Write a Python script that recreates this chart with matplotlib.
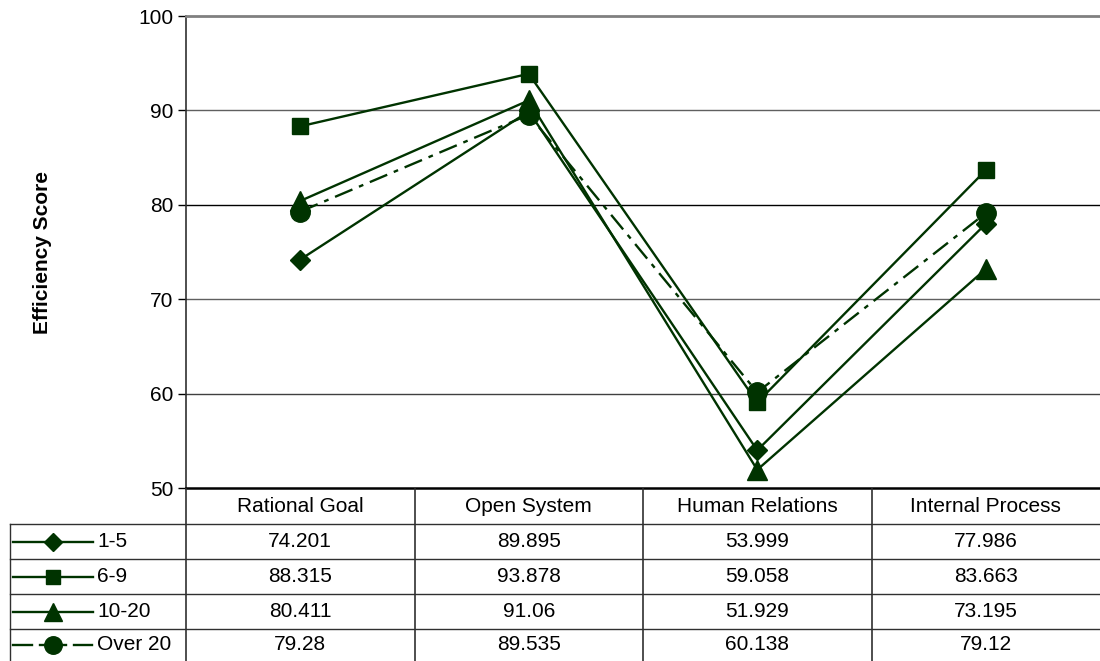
import matplotlib.pyplot as plt
import matplotlib.transforms as mtransforms
from matplotlib.lines import Line2D

plt.rcParams['font.family'] = ['Liberation Sans', 'DejaVu Sans']

categories = ['Rational Goal', 'Open System', 'Human Relations', 'Internal Process']
series_names = ['1-5', '6-9', '10-20', 'Over 20']
vals_1_5 = [74.201, 89.895, 53.999, 77.986]
vals_6_9 = [88.315, 93.878, 59.058, 83.663]
vals_10_20 = [80.411, 91.06, 51.929, 73.195]
vals_over_20 = [79.28, 89.535, 60.138, 79.12]
table_text = [
    ['74.201', '89.895', '53.999', '77.986'],
    ['88.315', '93.878', '59.058', '83.663'],
    ['80.411', '91.06', '51.929', '73.195'],
    ['79.28', '89.535', '60.138', '79.12'],
]

green = '#003300'
styles = [
    dict(marker='D', ms=10, ls='-'),
    dict(marker='s', ms=11, ls='-'),
    dict(marker='^', ms=14, ls='-'),
    dict(marker='o', ms=14, ls=(0, (8, 3, 2, 3))),
]
all_vals = [vals_1_5, vals_6_9, vals_10_20, vals_over_20]
fs = 15

W, H = 1100, 661
fig = plt.figure(figsize=(W / 100, H / 100), dpi=100)
ax = fig.add_axes([186 / W, 1 - 488 / H, 1 - 186 / W, (488 - 16) / H])

xs = list(range(len(categories)))
for vals, st in zip(all_vals, styles):
    ax.plot(xs, vals, color=green, lw=1.7, marker=st['marker'], ms=st['ms'],
            ls=st['ls'], mfc=green, mec=green, zorder=3)

ax.set_xlim(-0.5, len(categories) - 0.5)
ax.set_ylim(50, 100)
ax.set_yticks([50, 60, 70, 80, 90, 100])
ax.set_xticks([])
ax.tick_params(axis='y', direction='out', length=6, width=1, labelsize=fs, pad=3)
for y, c in [(60, '#404040'), (70, '#606060'), (80, '#000000'), (90, '#606060')]:
    ax.axhline(y, color=c, lw=1, zorder=1)
ax.spines['top'].set_color('#808080')
ax.spines['top'].set_linewidth(2)
ax.spines['right'].set_visible(False)
ax.spines['left'].set_color('#303030')
ax.spines['left'].set_linewidth(1.2)
ax.spines['bottom'].set_linewidth(1.8)
ax.set_ylabel('Efficiency Score', fontsize=fs, fontweight='bold')
ax.yaxis.set_label_coords(-134 / (W - 186), 0.5)

# data table underneath, columns follow the category positions
tr = mtransforms.blended_transform_factory(ax.transData, fig.transFigure)
ftr = fig.transFigure


def fy(py):
    return 1 - py / H


row_edges = [489, 524, 559, 594, 629, 661]
for py in row_edges[1:-1]:
    fig.add_artist(Line2D([10 / W, 1], [fy(py), fy(py)], color='#303030', lw=1, transform=ftr))
fig.add_artist(Line2D([10 / W, 10 / W], [fy(524), 0], color='#303030', lw=1, transform=ftr))
for i in range(len(categories)):
    fig.add_artist(Line2D([i - 0.5, i - 0.5], [fy(489), 0], color='#303030', lw=1.2, transform=tr))

for i, cat in enumerate(categories):
    fig.text(i, fy(506), cat, transform=tr, ha='center', va='center', fontsize=fs)
for r in range(len(series_names)):
    yc = fy((row_edges[r + 1] + row_edges[r + 2]) / 2)
    for i in range(len(categories)):
        fig.text(i, yc, table_text[r][i], transform=tr, ha='center', va='center', fontsize=fs)
    st = styles[r]
    if st['ls'] == '-':
        fig.add_artist(Line2D([13 / W, 93 / W], [yc, yc], color=green, lw=1.7, transform=ftr))
    else:
        for x0, x1 in [(13, 32), (40, 46), (61, 66), (74, 92)]:
            fig.add_artist(Line2D([x0 / W, x1 / W], [yc, yc], color=green, lw=1.7, transform=ftr))
    fig.add_artist(Line2D([53 / W], [yc], marker=st['marker'], ms=st['ms'] * 0.9, color=green,
                          mfc=green, mec=green, ls='none', transform=ftr))
    fig.text(97 / W, yc, series_names[r], transform=ftr, ha='left', va='center', fontsize=fs)

fig.savefig('out.png', dpi=100)
